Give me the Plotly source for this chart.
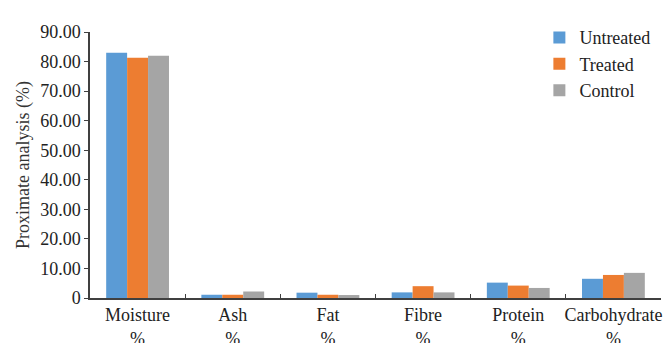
import plotly.graph_objects as go

categories = ["Moisture<br>%", "Ash<br>%", "Fat<br>%", "Fibre<br>%", "Protein<br>%", "Carbohydrate<br>%"]
untreated = [83.0, 1.1, 1.8, 1.9, 5.2, 6.5]
treated = [81.3, 1.1, 1.1, 4.0, 4.2, 7.8]
control = [82.0, 2.2, 1.0, 1.9, 3.4, 8.5]
y_tickvals = [0, 10, 20, 30, 40, 50, 60, 70, 80, 90]
y_ticktext = ["0", "10.00", "20.00", "30.00", "40.00", "50.00", "60.00", "70.00", "80.00", "90.00"]

font = "Liberation Serif"
fig = go.Figure()
for name, vals, col in [("Untreated", untreated, "#5B9BD5"),
                        ("Treated", treated, "#ED7D31"),
                        ("Control", control, "#A5A5A5")]:
    fig.add_trace(go.Bar(x=categories, y=vals, name=name, marker_color=col,
                         marker_line_width=0))

fig.update_layout(
    width=664, height=343,
    margin=dict(l=82, r=11, t=11, b=53),
    paper_bgcolor="white", plot_bgcolor="white",
    barmode="group", bargap=0.34, bargroupgap=0,
    font=dict(family=font, size=18, color="#222222"),
    showlegend=True,
    legend=dict(x=0.787, y=1.048, xanchor="left", yanchor="top",
                bgcolor="rgba(0,0,0,0)", font=dict(size=18, family=font),
                tracegroupgap=0, itemwidth=30),
)
fig.update_xaxes(
    type="category", showline=True, linecolor="#404040", linewidth=1.5,
    ticks="inside", tickson="boundaries", ticklen=4, tickcolor="#404040",
    showgrid=False, tickangle=0, automargin=False,
    tickfont=dict(size=18, family=font, color="#222222"),
)
fig.update_yaxes(
    range=[0, 90], tickvals=y_tickvals, ticktext=y_ticktext,
    showline=True, linecolor="#404040", linewidth=1.5,
    ticks="outside", ticklen=4, tickcolor="#404040", showgrid=False,
    zeroline=False, automargin=False,
    title=dict(text="Proximate analysis (%)", font=dict(size=18, family=font, color="#333333"), standoff=6),
    tickfont=dict(size=18, family=font, color="#222222"),
)
fig.write_html("out.html")
